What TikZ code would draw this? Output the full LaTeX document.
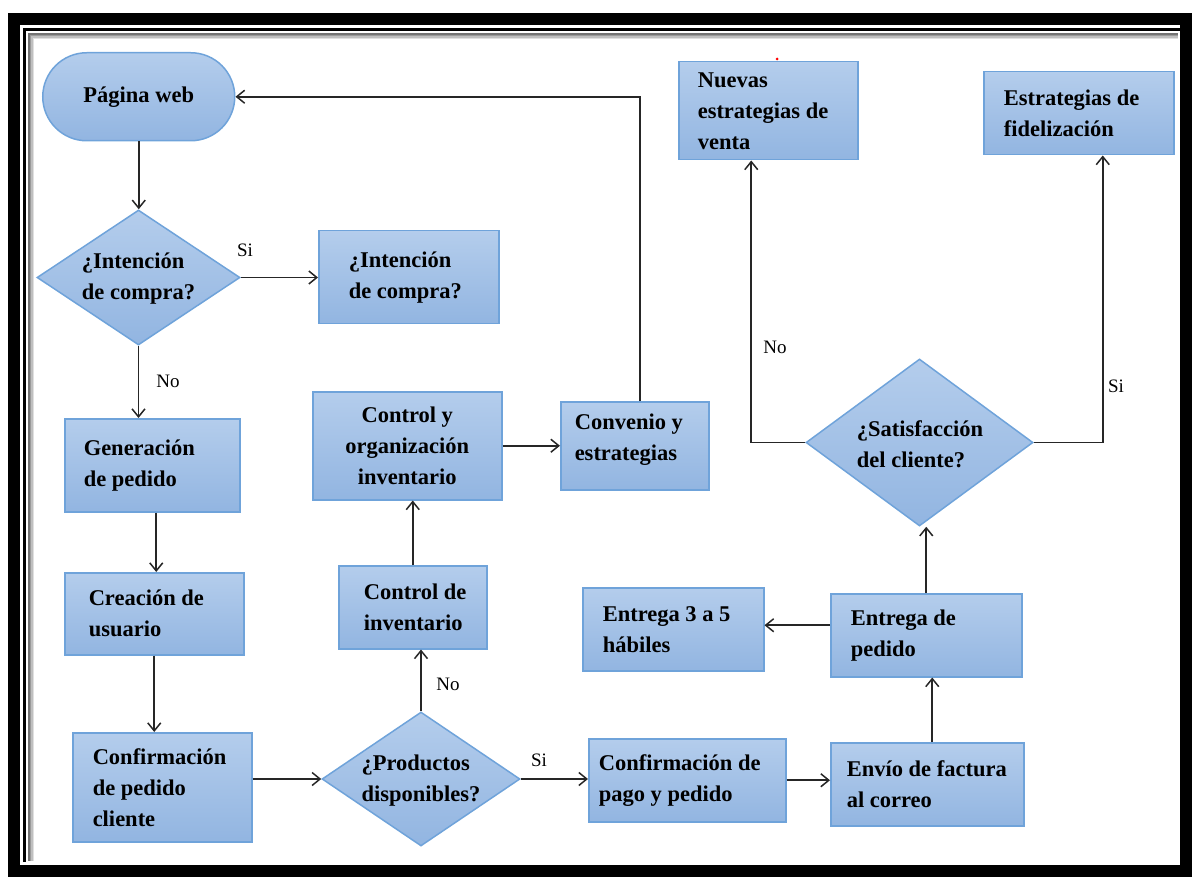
\documentclass[tikz,border=0pt]{standalone}
\usepackage{fontspec}
\setmainfont{Liberation Serif}
\usetikzlibrary{arrows.meta,shapes.geometric,calc}
\definecolor{boxtop}{HTML}{B4CDEC}
\definecolor{boxbot}{HTML}{92B5E1}
\definecolor{boxline}{HTML}{6FA3DA}
\begin{document}
\begin{tikzpicture}[x=1pt,y=-1pt,
  box/.style={draw=boxline, line width=1.5pt, top color=boxtop, bottom color=boxbot,
    anchor=north west, align=flush left, inner ysep=0pt,
    font=\bfseries\fontsize{22.5}{31}\selectfont},
  dia/.style={diamond, draw=boxline, line width=1.5pt, top color=boxtop, bottom color=boxbot, inner sep=0pt},
  dtxt/.style={align=left, inner sep=0pt, font=\bfseries\fontsize{22.5}{31}\selectfont},
  lbl/.style={inner sep=0pt, font=\fontsize{19}{22}\selectfont},
  arr/.style={draw=black!85, line width=1.6pt, -{Straight Barb[length=8pt,width=13pt,line width=1.5pt]}}
]
\useasboundingbox (0,0) rectangle (1193,882);
% frame
\foreach \s/\g in {0/55,1.5/40,3/25,4.5/12}{
  \draw[black!\g, line width=1.6pt] (29+\s,861) -- (29+\s,34+\s) -- (1178,34+\s);
}
\draw[line width=12pt] (14,19) rectangle (1186,871);
\draw[line width=3pt] (24.5,862) -- (24.5,29.5) -- (1180,29.5);
% nodes
\node[box, rounded corners=44pt, minimum width=192pt, minimum height=88pt, align=center, inner xsep=4pt] (web) at (42,52) {Página web};
\node[dia, minimum width=203pt, minimum height=135pt] (d1) at (138.5,277.5) {};
\node[dtxt] (d1t) at (138.5,279) {¿Intención\\de compra?};
\node[box, minimum width=180pt, minimum height=93pt, inner xsep=30pt, text width=120pt] (ib) at (318,230) {\mbox{¿Intención}\\\mbox{de compra?}};
\node[box, minimum width=175pt, minimum height=93pt, inner xsep=19pt, text width=137pt] (gen) at (64,418) {\mbox{Generación}\\\mbox{de pedido}};
\node[box, minimum width=179pt, minimum height=82pt, inner xsep=24pt, text width=131pt] (crea) at (64,572) {\mbox{Creación de}\\\mbox{usuario}};
\node[box, minimum width=179pt, minimum height=109pt, inner xsep=20pt, text width=139pt] (conf) at (72,732) {\mbox{Confirmación}\\\mbox{de pedido}\\\mbox{cliente}};
\node[dia, minimum width=198pt, minimum height=134pt] (d2) at (421,779) {};
\node[dtxt] (d2t) at (421,781) {¿Productos\\disponibles?};
\node[box, minimum width=148pt, minimum height=83pt, inner xsep=25pt, text width=98pt] (ci) at (338,565) {\mbox{Control de}\\\mbox{inventario}};
\node[box, minimum width=189pt, minimum height=108pt, align=center, inner xsep=4pt] (co) at (312,391) {Control y\\organización\\inventario};
\node[box, minimum width=148pt, minimum height=88pt, inner xsep=14pt, text width=120pt] (conv) at (560,401) {\mbox{Convenio y}\\\mbox{estrategias}\\[-14pt]\mbox{}};
\node[box, minimum width=197pt, minimum height=83pt, inner xsep=10pt, text width=177pt] (cp) at (588,738) {\mbox{Confirmación de}\\\mbox{pago y pedido}};
\node[box, minimum width=193pt, minimum height=83pt, inner xsep=16pt, text width=161pt] (env) at (830,742) {\mbox{Envío de factura}\\\mbox{al correo}};
\node[box, minimum width=191pt, minimum height=83pt, inner xsep=20pt, text width=151pt] (ep) at (830,593) {\mbox{Entrega de}\\\mbox{pedido}};
\node[box, minimum width=181pt, minimum height=83pt, inner xsep=20pt, text width=141pt] (e35) at (582,587) {\mbox{Entrega 3 a 5}\\\mbox{hábiles}};
\node[dia, minimum width=227pt, minimum height=167pt] (d3) at (919.5,442.5) {};
\node[dtxt] (d3t) at (920,444) {¿Satisfacción\\del cliente?};
\node[box, minimum width=179pt, minimum height=98pt, inner xsep=19pt, text width=141pt] (nv) at (678,61) {\mbox{Nuevas}\\\mbox{estrategias de}\\\mbox{venta}};
\node[box, minimum width=190pt, minimum height=83pt, inner xsep=20pt, text width=150pt] (fi) at (983,71) {\mbox{Estrategias de}\\\mbox{fidelización}};
\fill[red] (777,59) circle (1.5pt);
% labels
\node[lbl] (l1) at (245,250) {Si};
\node[lbl] (l2) at (168,381) {No};
\node[lbl] (l3) at (448,684) {No};
\node[lbl] (l4) at (539,760) {Si};
\node[lbl] (l5) at (775,347) {No};
\node[lbl] (l6) at (1116,386) {Si};
% connectors
\draw[arr] (web.south) -- (web.south |- d1.north);
\draw[arr] (d1.east) -- (d1.east -| ib.west);
\draw[arr] (d1.south) -- (d1.south |- gen.north);
\draw[arr] ([xshift=2pt]crea.north |- gen.south) -- ([xshift=2pt]crea.north);
\draw[arr] (crea.south) -- (crea.south |- conf.north);
\draw[arr] (conf.east |- d2.west) -- (d2.west);
\draw[arr] (d2.east) -- (d2.east -| cp.west);
\draw[arr] (d2.north) -- (d2.north |- ci.south);
\draw[arr] (ci.north) -- (ci.north |- co.south);
\draw[arr] (co.east) -- (conv.west);
\draw[arr] ([xshift=5pt]conv.north) |- (web.east);
\draw[arr] (cp.east) -- (cp.east -| env.west);
\draw[arr] ([xshift=5pt]env.north) -- ([xshift=5pt]env.north |- ep.south);
\draw[arr] ([yshift=4pt]e35.east -| ep.west) -- ([yshift=4pt]e35.east);
\draw[arr] (ep.north) -- (ep.north |- d3.south);
\draw[arr] (d3.west) -| ([xshift=-17pt]nv.south);
\draw[arr] (d3.east) -| ([xshift=24pt]fi.south);
\end{tikzpicture}
\end{document}
